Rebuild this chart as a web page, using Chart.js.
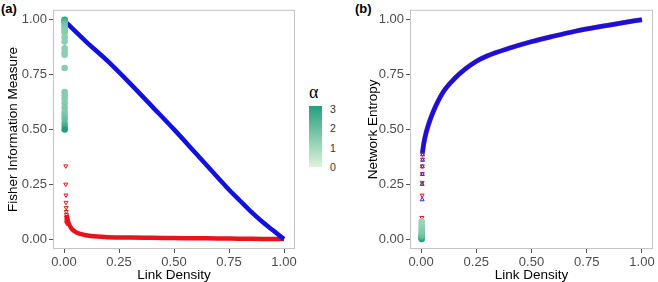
<!DOCTYPE html>
<html>
<head>
<meta charset="utf-8">
<script src="https://cdn.jsdelivr.net/npm/chart.js@4"></script>
<style>
  body { margin: 0; background: #fff; width: 658px; height: 282px; position: relative; overflow: hidden; font-family: "Liberation Sans", Arial, sans-serif; }
  .box { position: absolute; top: 0; height: 282px; }
  .tag { position: absolute; font-weight: bold; font-size: 13px; color: #000; }
  .lab { position: absolute; font-size: 10.5px; color: #333; line-height: 12px; }
</style>
</head>
<body>
<div class="tag" style="left:1px; top:1px;">(a)</div>
<div class="tag" style="left:355px; top:1px;">(b)</div>
<div class="box" style="left:0; width:300px;"><canvas id="chartA"></canvas></div>
<div class="box" style="left:357px; width:301px;"><canvas id="chartB"></canvas></div>

<div style="position:absolute; left:309px; top:82px; font-family:'Liberation Serif', serif; font-size:18px; color:#000;">α</div>
<div style="position:absolute; left:309px; top:106px; width:13px; height:61px; background:linear-gradient(to bottom, #22a07c, #dff3db);"></div>
<div class="lab" style="left:330px; top:103px;">3</div>
<div class="lab" style="left:330px; top:122px;">2</div>
<div class="lab" style="left:330px; top:142px;">1</div>
<div class="lab" style="left:330px; top:161px;">0</div>

<script>
// ---- panel (a): Fisher Information Measure ----
const fimBlueX = [0.012, 0.1, 0.2, 0.3, 0.4, 0.5, 0.6, 0.7, 0.75, 0.8, 0.85, 0.9, 0.95, 1.0];
const fimBlueY = [0.985, 0.9, 0.81, 0.71, 0.605, 0.5, 0.39, 0.28, 0.225, 0.175, 0.125, 0.08, 0.04, 0.0];

const fimRedX = [0.012, 0.02, 0.03, 0.04, 0.05, 0.07, 0.1, 0.15, 0.2, 0.3, 0.4, 0.5, 0.6, 0.7, 0.8, 0.9, 1.0];
const fimRedY = [0.11, 0.075, 0.055, 0.042, 0.034, 0.025, 0.018, 0.012, 0.009, 0.007, 0.006, 0.005, 0.004, 0.003, 0.002, 0.001, 0.0];

const fimTriX = [0.008, 0.008, 0.009, 0.009, 0.01, 0.01, 0.011, 0.011, 0.012, 0.012, 0.012, 0.013];
const fimTriY = [0.333, 0.25, 0.2, 0.167, 0.143, 0.125, 0.111, 0.1, 0.091, 0.083, 0.077, 0.071];

const fimGreenY = [1.0, 0.995, 0.99, 0.98, 0.97, 0.96, 0.95, 0.94, 0.92, 0.9, 0.87, 0.85, 0.84, 0.78, 0.67, 0.655, 0.64, 0.62, 0.6, 0.58, 0.565, 0.55, 0.53, 0.515, 0.5];
const fimGreenAlpha = [3, 2.6, 2.2, 1.8, 1.6, 1.5, 1.4, 1.4, 1.3, 1.3, 1.3, 1.3, 1.3, 1.4, 1.4, 1.4, 1.4, 1.4, 1.5, 1.5, 1.6, 1.8, 2.0, 2.4, 3];

// ---- panel (b): Network Entropy ----
const entBlueX = [0.006, 0.01, 0.017, 0.03, 0.054, 0.1, 0.15, 0.2, 0.25, 0.3, 0.4, 0.5, 0.6, 0.7, 0.8, 0.9, 1.0];
const entBlueY = [0.39, 0.42, 0.46, 0.51, 0.578, 0.67, 0.73, 0.775, 0.81, 0.835, 0.87, 0.9, 0.925, 0.948, 0.967, 0.984, 1.0];

const entRedTriX = [0.004, 0.005, 0.005, 0.006, 0.006, 0.007, 0.007];
const entRedTriY = [0.098, 0.2, 0.258, 0.298, 0.333, 0.364, 0.387];
const entBlueTriX = [0.005, 0.005, 0.006, 0.006, 0.007, 0.007];
const entBlueTriY = [0.18, 0.25, 0.295, 0.33, 0.36, 0.385];

const entGreenY = [0.0, 0.005, 0.01, 0.015, 0.02, 0.03, 0.04, 0.05, 0.06, 0.07, 0.08];
const entGreenAlpha = [3, 2.8, 2.5, 2.1, 1.8, 1.6, 1.5, 1.4, 1.3, 1.2, 1.1];

const tickVals = [0, 0.25, 0.5, 0.75, 1];

function pts(xs, ys) { return xs.map((x, i) => ({ x: x, y: ys[i] })); }

function alphaColor(a) {
    const lo = [223, 243, 219], hi = [34, 160, 124];
    const t = Math.max(0, Math.min(1, a / 3));
    const c = lo.map((v, i) => Math.round(v + (hi[i] - v) * t));
    return 'rgb(' + c.join(',') + ')';
}

const panelBorder = {
    id: 'panelBorder',
    afterDraw(chart) {
        const a = chart.chartArea, ctx = chart.ctx;
        ctx.save();
        ctx.strokeStyle = '#c4c4c4';
        ctx.lineWidth = 1;
        ctx.strokeRect(a.left + 0.5, a.top + 0.5, a.right - a.left - 1, a.bottom - a.top - 1);
        ctx.restore();
    }
};

function axis(title, isY, titlePad) {
    return {
        type: 'linear',
        min: isY ? -0.045 : -0.05,
        max: isY ? 1.045 : 1.05,
        afterBuildTicks: s => { s.ticks = tickVals.map(v => ({ value: v })); },
        afterFit: s => { if (isY) s.width = 53; else s.height = 33; },
        ticks: {
            color: '#4d4d4d',
            font: { family: 'Liberation Sans', size: 13 },
            padding: 2,
            callback: v => v.toFixed(2)
        },
        grid: { drawOnChartArea: false, drawTicks: true, tickLength: 4, color: '#555' },
        border: { display: false },
        title: {
            display: true,
            text: title,
            color: '#000',
            font: { family: 'Liberation Sans', size: 13.5, lineHeight: 1 },
            padding: { top: titlePad, bottom: 0 }
        }
    };
}

function baseOptions(yTitle, yPad) {
    return {
        responsive: false,
        animation: false,
        layout: { padding: { top: 5, right: 3, left: 0, bottom: 0 } },
        plugins: { legend: { display: false }, tooltip: { enabled: false } },
        scales: { x: axis('Link Density', false, 2), y: axis(yTitle, true, yPad) }
    };
}

function sizeCanvas(id, w) {
    const c = document.getElementById(id);
    c.width = w; c.height = 282;
    c.style.width = w + 'px'; c.style.height = '282px';
    return c;
}

// lower order is drawn on top
new Chart(sizeCanvas('chartA', 300), {
    type: 'scatter',
    data: {
        datasets: [
            {
                type: 'line', order: 4, data: pts(fimRedX, fimRedY), borderColor: '#e8141a',
                borderWidth: 4.5, pointRadius: 0, cubicInterpolationMode: 'monotone'
            },
            {
                order: 3, data: pts(fimTriX, fimTriY), pointStyle: 'triangle', rotation: 180,
                pointRadius: 2.3, borderColor: '#e8141a', backgroundColor: 'rgba(255,255,255,0)', borderWidth: 1
            },
            {
                type: 'line', order: 2, data: pts(fimBlueX, fimBlueY), borderColor: '#1010e0',
                borderWidth: 4.5, pointRadius: 0, cubicInterpolationMode: 'monotone'
            },
            {
                order: 1, data: [{ x: 0.004, y: 0.875 }], pointStyle: 'triangle', pointRadius: 2,
                borderColor: '#4a6fe0', backgroundColor: 'rgba(255,255,255,0)', borderWidth: 1
            },
            {
                order: 0, data: fimGreenY.map(y => ({ x: 0.003, y: y })),
                pointRadius: 3.3, borderWidth: 0,
                backgroundColor: fimGreenAlpha.map(alphaColor)
            }
        ]
    },
    options: baseOptions('Fisher Information Measure', 7),
    plugins: [panelBorder]
});

new Chart(sizeCanvas('chartB', 301), {
    type: 'scatter',
    data: {
        datasets: [
            {
                type: 'line', order: 4, data: pts(entBlueX, entBlueY), borderColor: 'rgba(200,40,90,0.6)',
                borderWidth: 5, pointRadius: 0, cubicInterpolationMode: 'monotone'
            },
            {
                type: 'line', order: 3, data: pts(entBlueX, entBlueY), borderColor: '#1a10d8',
                borderWidth: 4.5, pointRadius: 0, cubicInterpolationMode: 'monotone'
            },
            {
                order: 2, data: pts(entRedTriX, entRedTriY), pointStyle: 'triangle', rotation: 180,
                pointRadius: 2.3, borderColor: '#e8141a', backgroundColor: 'rgba(255,255,255,0)', borderWidth: 1
            },
            {
                order: 1, data: pts(entBlueTriX, entBlueTriY), pointStyle: 'triangle',
                pointRadius: 2.3, borderColor: '#2a2ae0', backgroundColor: 'rgba(255,255,255,0)', borderWidth: 1
            },
            {
                order: 0, data: entGreenY.map(y => ({ x: 0.003, y: y })),
                pointRadius: 3.3, borderWidth: 0,
                backgroundColor: entGreenAlpha.map(alphaColor)
            }
        ]
    },
    options: baseOptions('Network Entropy', 10),
    plugins: [panelBorder]
});
</script>
</body>
</html>
